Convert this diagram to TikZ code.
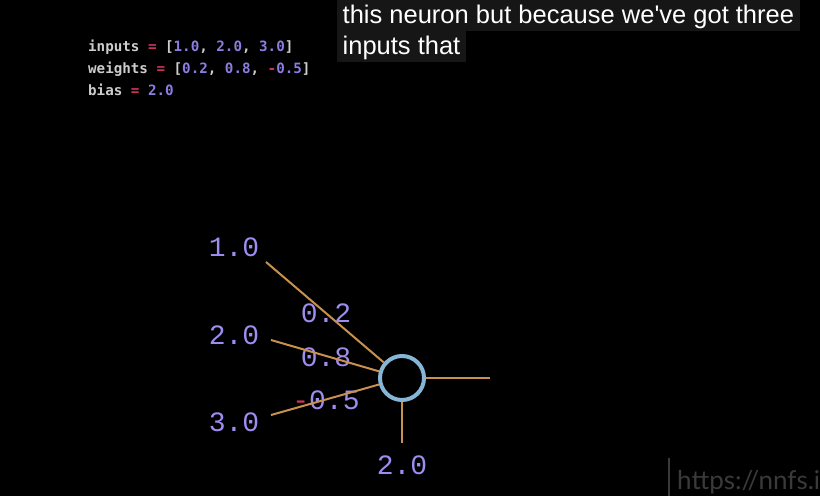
\documentclass[tikz,border=0pt]{standalone}
\usepackage{fontspec}
\setmainfont{Liberation Sans}
\newfontfamily\codefont{DejaVu Sans Mono}
\newfontfamily\numfont{Liberation Mono}
\newfontfamily\markfont{Lato}
\usetikzlibrary{calc}

\definecolor{codegrey}{RGB}{205,205,205}
\definecolor{codered}{RGB}{214,51,95}
\definecolor{codenum}{RGB}{140,125,225}
\definecolor{numpurple}{RGB}{158,140,238}
\definecolor{wirecol}{RGB}{200,145,78}
\definecolor{cellblue}{RGB}{134,181,214}
\definecolor{subbg}{RGB}{22,22,22}
\definecolor{markgrey}{RGB}{58,58,58}

\begin{document}
\begin{tikzpicture}[x=1pt, y=-1pt,
  codeline/.style={anchor=base west, inner sep=0pt, text=codegrey,
    font=\codefont\bfseries\fontsize{14.2}{16}\selectfont},
  subline/.style={anchor=north west, fill=subbg, text=white, inner xsep=5.5pt,
    inner ysep=0pt, text height=23pt, text depth=8pt,
    font=\fontsize{25.5}{30}\selectfont},
  numlabel/.style={text=numpurple, inner sep=2pt,
    font=\numfont\fontsize{28}{32}\selectfont},
  wire/.style={draw=wirecol, line width=2pt}]
\useasboundingbox (0,0) rectangle (820,496);
\fill[black] (0,0) rectangle (820,496);

% code
\node[codeline] (lineinputs) at (88,51) {inputs \textcolor{codered}{=} [\textcolor{codenum}{1.0}, \textcolor{codenum}{2.0}, \textcolor{codenum}{3.0}]};
\node[codeline] (lineweights) at (88,73) {weights \textcolor{codered}{=} [\textcolor{codenum}{0.2}, \textcolor{codenum}{0.8}, \textcolor{codered}{-}\textcolor{codenum}{0.5}]};
\node[codeline] (linebias) at (88,95) {bias \textcolor{codered}{=} \textcolor{codenum}{2.0}};

% subtitles
\node[subline] (subone) at (337,0) {this neuron but because we\textquotesingle ve got three};
\node[subline] (subtwo) at (337,31) {inputs that};

% neuron
\node[circle, draw=cellblue, line width=4pt, minimum size=44pt, inner sep=0pt] (neuron) at (402,378) {};

\node[numlabel] (inone) at (234,247) {1.0};
\node[numlabel] (intwo) at (234,335) {2.0};
\node[numlabel] (inthree) at (234,422) {3.0};
\node[numlabel] (wone) at (326,313) {0.2};
\node[numlabel] (wtwo) at (326,357) {0.8};
\node[numlabel] (wthree) at (326,400) {\textcolor{codered}{-}0.5};
\node[numlabel] (biaslabel) at (402,465) {2.0};

\coordinate (ione) at (266,262);
\coordinate (itwo) at (271,340);
\coordinate (ithree) at (271,415);
\coordinate (outend) at (490,378);
\coordinate (biasend) at (402,443);

\draw[wire] (ione) -- (neuron);
\draw[wire] (itwo) -- (neuron);
\draw[wire] (ithree) -- (neuron);
\draw[wire] (neuron.east) -- (outend);
\draw[wire] (neuron.south) -- (biasend);

% watermark
\begin{scope}
\clip (0,0) rectangle (820,496);
\node[anchor=base west, inner sep=0pt, text=markgrey,
  font=\markfont\fontsize{26}{30}\selectfont] (mark) at (677,489) {https://nnfs.io};
\draw[markgrey, line width=1.2pt] (669,458) -- (669,496);
\end{scope}
\end{tikzpicture}
\end{document}
